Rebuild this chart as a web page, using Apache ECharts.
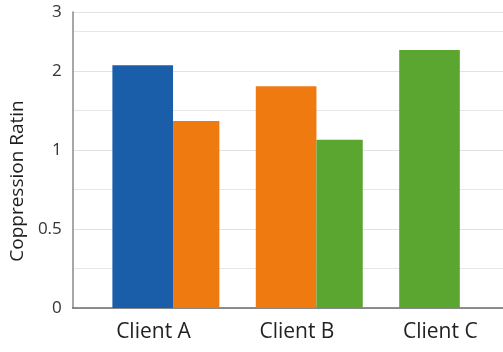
<!DOCTYPE html>
<html>
<head>
<meta charset="utf-8">
<script src="https://cdn.jsdelivr.net/npm/echarts@6/dist/echarts.min.js"></script>
<style>
  html, body { margin: 0; padding: 0; background: #ffffff; }
  #chart { width: 503px; height: 352px; }
</style>
</head>
<body>
<div id="chart"></div>
<script>
// Categories and compression ratios per client (null = no bar)
const categories = ['Client A', 'Client B', 'Client C'];
const blueValues = [2.10, null, null];
const orangeValues = [1.37, 1.81, null];
const greenValues = [null, 1.13, 2.36];

// Tick labels of the ratio axis (uneven steps)
const tickRatios = [0, 0.5, 1, 2, 3];
const tickLabels = ['0', '0.5', '1', '2', '3'];

// Axis units for each tick: one unit per step, the last step is shorter
const tickAxisPos = [0, 1, 2, 3, 3.75];

// Piecewise-linear ratio scale through the tick marks
function toAxis(r) {
  for (let i = 1; i < tickRatios.length; i++) {
    if (r <= tickRatios[i] || i === tickRatios.length - 1) {
      const t = (r - tickRatios[i - 1]) / (tickRatios[i] - tickRatios[i - 1]);
      return tickAxisPos[i - 1] + t * (tickAxisPos[i] - tickAxisPos[i - 1]);
    }
  }
  return 0;
}

const seriesDefs = [
  { name: 'Blue', values: blueValues, color: '#1a5ea9' },
  { name: 'Orange', values: orangeValues, color: '#ef7a10' },
  { name: 'Green', values: greenValues, color: '#5ba631' }
];

// Bars in a category are packed from the left: wide slot first, narrow slot second
const slotBounds = [[-0.224, 0.199], [0.199, 0.522]];

const slotOf = categories.map(() => 0);
const series = seriesDefs.map(def => {
  const data = [];
  def.values.forEach((v, i) => {
    if (v == null) return;
    data.push([i, v, slotOf[i]]);
    slotOf[i] += 1;
  });
  return {
    type: 'custom',
    name: def.name,
    data: data,
    encode: { x: 0, y: 1 },
    renderItem: function (params, api) {
      const idx = api.value(0);
      const ratio = api.value(1);
      const slot = slotBounds[api.value(2)];
      const base = api.coord([idx, 0]);
      const top = api.coord([idx, toAxis(ratio)]);
      const band = api.size([1, 0])[0];
      const x0 = base[0] + band * slot[0];
      const x1 = base[0] + band * slot[1];
      return {
        type: 'rect',
        shape: { x: x0, y: top[1], width: x1 - x0, height: base[1] - top[1] },
        style: { fill: def.color }
      };
    }
  };
});

const chart = echarts.init(document.getElementById('chart'), null, { renderer: 'canvas' });
chart.setOption({
  backgroundColor: '#ffffff',
  animation: false,
  grid: { left: 68, right: 0, top: 12, bottom: 44, containLabel: false },
  xAxis: {
    type: 'category',
    data: categories,
    axisLine: { show: true, lineStyle: { color: '#6b6b6b', width: 1.5 } },
    axisTick: { show: false },
    axisLabel: {
      margin: 14,
      padding: [0, 0, 0, 18],
      fontFamily: 'Open Sans',
      fontSize: 21,
      color: '#222222'
    },
    splitLine: { show: false }
  },
  yAxis: {
    type: 'value',
    min: 0,
    max: 3.75,
    interval: 1,
    name: 'Coppression Ratin',
    nameLocation: 'middle',
    nameRotate: 90,
    nameGap: 44,
    nameTextStyle: {
      fontFamily: 'Open Sans',
      fontSize: 19,
      color: '#1e1e1e',
      padding: [0, 42, 0, 0]
    },
    axisLine: { show: true, lineStyle: { color: '#8a8a8a', width: 1.5 } },
    axisTick: { show: false },
    axisLabel: {
      margin: 11,
      fontFamily: 'Open Sans',
      fontSize: 17,
      color: '#333333',
      formatter: function (v) {
        for (let j = 0; j < tickAxisPos.length; j++) {
          if (Math.abs(tickAxisPos[j] - v) < 1e-6) return tickLabels[j];
        }
        return '';
      }
    },
    splitLine: { show: true, lineStyle: { color: '#e2e2e2', width: 1.2 } },
    minorTick: { show: false, splitNumber: 2 },
    minorSplitLine: { show: true, lineStyle: { color: '#e6e6e6', width: 1.2 } }
  },
  series: series
});
</script>
</body>
</html>
